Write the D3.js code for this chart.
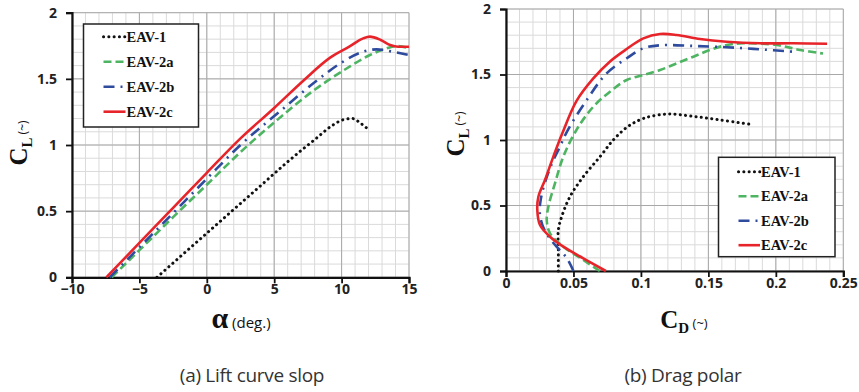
<!DOCTYPE html>
<html><head><meta charset="utf-8">
<script src="https://cdn.jsdelivr.net/npm/d3@7"></script>
<style>html,body{margin:0;padding:0;background:#fff;}svg{display:block;}</style>
</head><body>
<svg id="chart" width="859" height="392"></svg>
<script>
// ---------- Data ----------
const seriesNames = ["EAV-1", "EAV-2a", "EAV-2b", "EAV-2c"];

// (a) Lift curve: angle of attack (deg) vs CL
const alpha_EAV1  = [-3.7, -2, 0, 2, 4, 6, 7.2, 8, 9.2, 10.1, 10.8, 11.4, 11.9];
const cl_a_EAV1   = [0, 0.153, 0.333, 0.513, 0.693, 0.873, 0.975, 1.04, 1.14, 1.19, 1.2, 1.165, 1.125];
const alpha_EAV2a = [-7.05, -5, -2.5, 0, 2.7, 5.4, 7.9, 10.4, 12.1, 13.35, 14.1, 15];
const cl_a_EAV2a  = [0, 0.205, 0.455, 0.70, 0.965, 1.205, 1.41, 1.58, 1.68, 1.731, 1.748, 1.731];
const alpha_EAV2b = [-7.2, -5, -2.5, 0, 2.5, 5.4, 8.2, 9.9, 11.6, 12.6, 13.8, 15];
const cl_a_EAV2b  = [0, 0.227, 0.485, 0.745, 1.0, 1.252, 1.49, 1.617, 1.705, 1.723, 1.705, 1.68];
const alpha_EAV2c = [-7.45, -5, -2.5, 0, 2.5, 5, 7.2, 9.15, 10.6, 11.6, 12.1, 12.9, 13.6, 14.2, 15];
const cl_a_EAV2c  = [0, 0.26, 0.525, 0.79, 1.05, 1.28, 1.49, 1.66, 1.745, 1.806, 1.819, 1.794, 1.756, 1.743, 1.743];

// (b) Drag polar: CD vs CL
const cd_EAV1    = [0.0388, 0.0388, 0.0388, 0.0413, 0.0474, 0.0573, 0.0697, 0.0795, 0.09, 0.102, 0.12, 0.139, 0.159, 0.181];
const cl_b_EAV1  = [0, 0.15, 0.313, 0.415, 0.567, 0.72, 0.873, 1.0, 1.1, 1.165, 1.198, 1.18, 1.153, 1.12];
const cd_EAV2a   = [0.0695, 0.0573, 0.0425, 0.0326, 0.0302, 0.0314, 0.0363, 0.0425, 0.0524, 0.0647, 0.0771, 0.0895, 0.1018, 0.1142, 0.1265, 0.1389, 0.1512, 0.1636, 0.1759, 0.2007, 0.2179, 0.235];
const cl_b_EAV2a = [0, 0.084, 0.186, 0.288, 0.389, 0.491, 0.669, 0.873, 1.08, 1.254, 1.369, 1.458, 1.496, 1.534, 1.585, 1.636, 1.687, 1.725, 1.738, 1.725, 1.687, 1.66];
const cd_EAV2b   = [0.05, 0.045, 0.038, 0.031, 0.027, 0.025, 0.026, 0.029, 0.034, 0.040, 0.046, 0.0598, 0.0746, 0.0895, 0.1018, 0.1142, 0.1389, 0.1636, 0.1883, 0.213];
const cl_b_EAV2b = [0, 0.1, 0.18, 0.27, 0.35, 0.45, 0.56, 0.68, 0.82, 0.95, 1.08, 1.305, 1.509, 1.624, 1.70, 1.723, 1.718, 1.708, 1.692, 1.674];
const cd_EAV2c   = [0.074, 0.0573, 0.0425, 0.0326, 0.0252, 0.0232, 0.024, 0.0289, 0.0351, 0.0413, 0.0524, 0.0647, 0.0771, 0.0895, 0.1018, 0.1142, 0.1265, 0.1438, 0.1636, 0.1883, 0.213, 0.238];
const cl_b_EAV2c = [0, 0.097, 0.186, 0.262, 0.351, 0.466, 0.567, 0.695, 0.873, 1.04, 1.30, 1.47, 1.60, 1.695, 1.776, 1.809, 1.802, 1.771, 1.75, 1.738, 1.738, 1.735];

const alphaTicks = [-10, -5, 0, 5, 10, 15];
const cdTicks = [0, 0.05, 0.1, 0.15, 0.2, 0.25];
const clTicks = [0, 0.5, 1, 1.5, 2];
const captions = ["(a) Lift curve slop", "(b) Drag polar"];

// ---------- Styles ----------
const styles = {
  "EAV-1":  {color: "#111111", width: 3,   dash: "0.1,5.2", cap: "round"},
  "EAV-2a": {color: "#4DB462", width: 2.6, dash: "8,4",     cap: "butt"},
  "EAV-2b": {color: "#2E4B9E", width: 2.6, dash: "11,6,2,6", cap: "butt"},
  "EAV-2c": {color: "#E8242B", width: 2.6, dash: null,      cap: "butt"}
};

const svg = d3.select("#chart");
const zip = (xs, ys) => xs.map((x, i) => [x, ys[i]]);

function panel(cfg) {
  const g = svg.append("g");
  const x = d3.scaleLinear().domain(cfg.xDomain).range(cfg.xRange);
  const y = d3.scaleLinear().domain([0, 2]).range(cfg.yRange);

  // minor grid
  const xMinor = d3.range(cfg.xDomain[0], cfg.xDomain[1] + cfg.xMinor / 2, cfg.xMinor);
  const yMinor = d3.range(0, 2.0001, 0.1);
  g.append("g").selectAll("line").data(xMinor).join("line")
    .attr("x1", d => x(d)).attr("x2", d => x(d)).attr("y1", y(0)).attr("y2", y(2))
    .attr("stroke", "#dadada").attr("stroke-width", 1);
  g.append("g").selectAll("line").data(yMinor).join("line")
    .attr("y1", d => y(d)).attr("y2", d => y(d)).attr("x1", x(cfg.xDomain[0])).attr("x2", x(cfg.xDomain[1]))
    .attr("stroke", "#dadada").attr("stroke-width", 1);
  // major grid
  g.append("g").selectAll("line").data(cfg.xTicks).join("line")
    .attr("x1", d => x(d)).attr("x2", d => x(d)).attr("y1", y(0)).attr("y2", y(2))
    .attr("stroke", "#a8a8a8").attr("stroke-width", 1);
  g.append("g").selectAll("line").data(clTicks).join("line")
    .attr("y1", d => y(d)).attr("y2", d => y(d)).attr("x1", x(cfg.xDomain[0])).attr("x2", x(cfg.xDomain[1]))
    .attr("stroke", "#a8a8a8").attr("stroke-width", 1);

  // axes
  const xAxis = d3.axisBottom(x).tickValues(cfg.xTicks).tickSize(6).tickPadding(1).tickFormat(d3.format("~g"));
  const yAxis = d3.axisLeft(y).tickValues(clTicks).tickSize(6).tickPadding(9).tickFormat(d3.format("~g"));
  const ax = g.append("g").attr("transform", `translate(0,${y(0)})`).call(xAxis);
  const ay = g.append("g").attr("transform", `translate(${x(cfg.xDomain[0])},0)`).call(yAxis);
  [ax, ay].forEach(a => {
    a.select(".domain").attr("stroke", "#111").attr("stroke-width", 2.2);
    a.selectAll(".tick line").attr("stroke", "#111").attr("stroke-width", 1.8);
    a.selectAll("text").attr("font-family", "'Open Sans', sans-serif").attr("font-weight", 700)
      .attr("font-size", 14).attr("fill", "#222");
  });

  // lines
  const line = d3.line().x(d => x(d[0])).y(d => y(d[1])).curve(cfg.curve);
  cfg.series.forEach(s => {
    const st = styles[s.name];
    g.append("path").datum(zip(s.xs, s.ys)).attr("d", line)
      .attr("fill", "none").attr("stroke", st.color).attr("stroke-width", st.width)
      .attr("stroke-dasharray", st.dash).attr("stroke-linecap", st.cap);
  });

  // legend
  const L = cfg.legend;
  const lg = g.append("g");
  lg.append("rect").attr("x", L.x).attr("y", L.y).attr("width", L.w).attr("height", L.h)
    .attr("fill", "#fff").attr("stroke", "#222").attr("stroke-width", 1.5);
  seriesNames.forEach((n, i) => {
    const st = styles[n];
    const yy = L.y + L.first + i * L.step;
    lg.append("line").attr("x1", L.x + L.s0).attr("x2", L.x + L.s1).attr("y1", yy).attr("y2", yy)
      .attr("stroke", st.color).attr("stroke-width", st.width)
      .attr("stroke-dasharray", st.dash).attr("stroke-linecap", st.cap);
    lg.append("text").attr("x", L.x + L.s1 + 1).attr("y", yy + 5).text(n)
      .attr("font-family", "'Liberation Serif', 'Times New Roman', serif").attr("font-weight", 700)
      .attr("font-size", 14.5).attr("fill", "#111");
  });

  // y axis title
  const yt = svg.append("text").attr("transform", `translate(${cfg.yTitle[0]},${cfg.yTitle[1]}) rotate(-90)`)
    .attr("text-anchor", "middle").attr("fill", "#111");
  yt.append("tspan").text("C").attr("font-family", "'Liberation Serif', serif").attr("font-weight", 700).attr("font-size", 25);
  yt.append("tspan").text("L").attr("dy", 5).attr("font-family", "'Liberation Serif', serif").attr("font-weight", 700).attr("font-size", 15);
  yt.append("tspan").text(" (~)").attr("dy", -5).attr("font-family", "'Open Sans', sans-serif").attr("font-size", 12);

  // x axis title
  const xt = svg.append("text").attr("x", cfg.xTitle[0]).attr("y", cfg.xTitle[1]).attr("text-anchor", "middle").attr("fill", "#111");
  cfg.xTitleParts(xt);

  // caption
  svg.append("text").attr("x", cfg.caption[0]).attr("y", 382).attr("text-anchor", "middle")
    .attr("font-family", "'Open Sans', sans-serif").attr("font-size", 19).attr("fill", "#333")
    .attr("letter-spacing", -0.3).text(cfg.captionText);
}

panel({
  xDomain: [-10, 15], xRange: [72, 409], yRange: [277.3, 12.7],
  xTicks: alphaTicks, xMinor: 1, curve: d3.curveMonotoneX,
  series: [
    {name: "EAV-1", xs: alpha_EAV1, ys: cl_a_EAV1},
    {name: "EAV-2a", xs: alpha_EAV2a, ys: cl_a_EAV2a},
    {name: "EAV-2b", xs: alpha_EAV2b, ys: cl_a_EAV2b},
    {name: "EAV-2c", xs: alpha_EAV2c, ys: cl_a_EAV2c}
  ],
  legend: {x: 83.5, y: 24, w: 115, h: 103, first: 12.7, step: 25, s0: 20, s1: 42},
  yTitle: [27, 143],
  xTitle: [241, 328],
  xTitleParts: t => {
    t.append("tspan").text("α").attr("font-family", "'Liberation Serif', serif").attr("font-weight", 700).attr("font-size", 30);
    t.append("tspan").text(" (deg.)").attr("font-family", "'Open Sans', sans-serif").attr("font-size", 15);
  },
  caption: [252, 0], captionText: captions[0]
});

panel({
  xDomain: [0, 0.25], xRange: [506, 843.3], yRange: [271, 9],
  xTicks: cdTicks, xMinor: 0.01, curve: d3.curveCatmullRom.alpha(0.5),
  series: [
    {name: "EAV-1", xs: cd_EAV1, ys: cl_b_EAV1},
    {name: "EAV-2a", xs: cd_EAV2a, ys: cl_b_EAV2a},
    {name: "EAV-2b", xs: cd_EAV2b, ys: cl_b_EAV2b},
    {name: "EAV-2c", xs: cd_EAV2c, ys: cl_b_EAV2c}
  ],
  legend: {x: 718.5, y: 157.3, w: 116.5, h: 99.4, first: 14.4, step: 24.5, s0: 20, s1: 41.5},
  yTitle: [464, 134],
  xTitle: [684, 328],
  xTitleParts: t => {
    t.append("tspan").text("C").attr("font-family", "'Liberation Serif', serif").attr("font-weight", 700).attr("font-size", 25);
    t.append("tspan").text("D").attr("dy", 5).attr("font-family", "'Liberation Serif', serif").attr("font-weight", 700).attr("font-size", 15);
    t.append("tspan").text(" (~)").attr("dy", -5).attr("font-family", "'Open Sans', sans-serif").attr("font-size", 13);
  },
  caption: [683, 0], captionText: captions[1]
});
</script>
</body></html>
